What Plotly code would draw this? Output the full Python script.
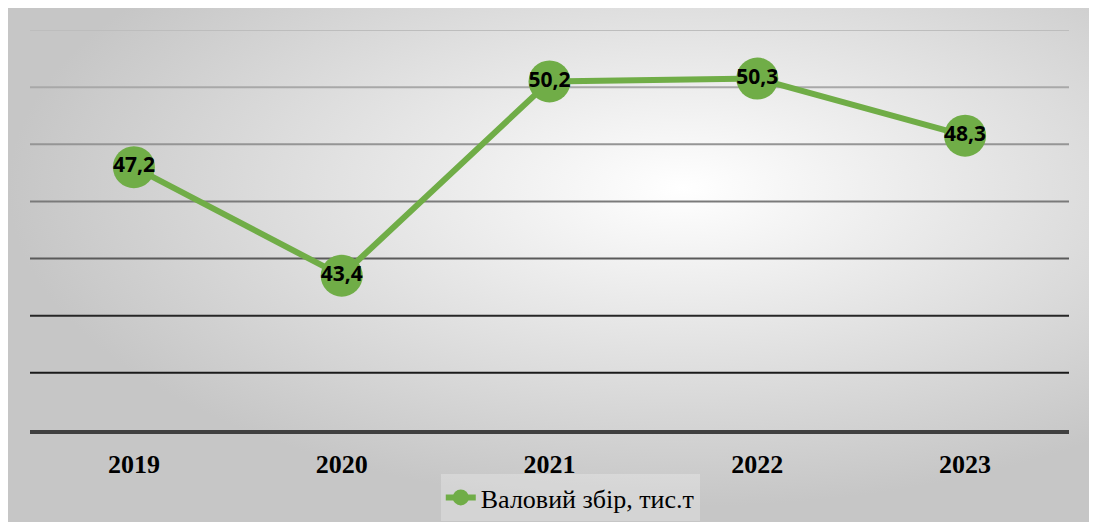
import base64
import plotly.graph_objects as go

years = ["2019", "2020", "2021", "2022", "2023"]
values = [47.2, 43.4, 50.2, 50.3, 48.3]
labels = ["47,2", "43,4", "50,2", "50,3", "48,3"]
series_name = "Валовий збір, тис.т"

grid_values = [40, 42, 44, 46, 48, 50, 52]
grid_colors = ["#1a1a1a", "#262626", "#5a5a5a", "#7a7a7a", "#959595", "#a8a8a8", "#bdbdbd"]

green = "#70AD47"

# page body has an 8px margin, so the figure starts at (8, 8)
W, H = 1089, 514
L, R, T, B = 22, 28, 22, 92
pw, ph = W - L - R, H - T - B

svg = f'''<svg xmlns="http://www.w3.org/2000/svg" width="1090" height="515" viewBox="0 0 1090 515" preserveAspectRatio="none">
<defs><radialGradient id="g" cx="0.62" cy="0.35" r="0.62">
<stop offset="0" stop-color="#ffffff"/><stop offset="1" stop-color="#c6c6c6"/></radialGradient></defs>
<rect x="0" y="0" width="1090" height="515" fill="url(#g)"/></svg>'''
src = "data:image/svg+xml;base64," + base64.b64encode(svg.encode()).decode()

fig = go.Figure()
fig.add_trace(go.Scatter(
    x=years, y=values, mode="lines+markers+text", name=series_name,
    line=dict(color=green, width=6),
    marker=dict(color=green, size=42),
    text=labels, textposition="middle center",
    textfont=dict(family="Open Sans", size=21, color="black", weight="bold"),
))

shapes = []
for v, c in zip(grid_values, grid_colors):
    shapes.append(dict(type="line", xref="paper", yref="y", x0=0, x1=1, y0=v, y1=v,
                       line=dict(color=c, width=2), layer="below"))

fig.update_layout(
    width=W, height=H,
    margin=dict(l=L, r=R, t=T, b=B, autoexpand=False),
    paper_bgcolor="#d0d0d0", plot_bgcolor="rgba(0,0,0,0)",
    showlegend=True,
    legend=dict(orientation="h", x=0.52, xanchor="center", y=-(B - 1) / ph, yanchor="bottom",
                bgcolor="rgba(255,255,255,0.25)",
                font=dict(family="Liberation Serif", size=26, color="black")),
    xaxis=dict(type="category", range=[-0.5, 4.5], showgrid=False,
               showline=True, linecolor="#404040", linewidth=3.5,
               zeroline=False, ticks="", ticklabelstandoff=8, automargin=False,
               tickfont=dict(family="Liberation Serif", size=26, color="black", weight="bold")),
    yaxis=dict(range=[38, 52], showgrid=False, zeroline=False, showticklabels=False,
               showline=False, ticks="", automargin=False),
    shapes=shapes,
    images=[dict(source=src, xref="paper", yref="paper",
                 x=-L / pw, y=(H - B) / ph,
                 sizex=W / pw, sizey=H / ph,
                 xanchor="left", yanchor="top", sizing="stretch", layer="below")],
)

fig.write_html("out.html")
